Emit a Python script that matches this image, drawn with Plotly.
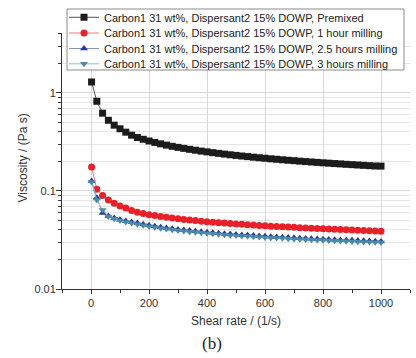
import plotly.graph_objects as go

shear_rate = [2, 20, 40, 60, 80, 100, 120, 140, 160, 180, 200, 220, 240, 260, 280, 300,
              320, 340, 360, 380, 400, 420, 440, 460, 480, 500, 520, 540, 560, 580, 600,
              620, 640, 660, 680, 700, 720, 740, 760, 780, 800, 820, 840, 860, 880, 900,
              920, 940, 960, 980, 1000]

premixed = [1.29, 0.82, 0.62, 0.525, 0.468, 0.43, 0.397, 0.37, 0.350, 0.336, 0.323, 0.312,
            0.302, 0.293, 0.285, 0.278, 0.2716, 0.2655, 0.260, 0.2547, 0.250, 0.2455, 0.2413,
            0.2374, 0.2337, 0.2303, 0.2269, 0.2237, 0.2207, 0.2179, 0.2153, 0.2125, 0.2102,
            0.2077, 0.2054, 0.2034, 0.2011, 0.1991, 0.1972, 0.1954, 0.1935, 0.1918, 0.1900,
            0.1885, 0.1868, 0.1853, 0.1838, 0.1823, 0.1809, 0.1795, 0.179]

milling_1h = [0.175, 0.104, 0.090, 0.081, 0.075, 0.070, 0.0668, 0.0632, 0.0605, 0.0588,
              0.0573, 0.0560, 0.0549, 0.0538, 0.0529, 0.0520, 0.0512, 0.0505, 0.0498, 0.0492,
              0.0486, 0.0480, 0.0475, 0.0470, 0.0465, 0.0460, 0.0456, 0.0452, 0.0448, 0.0444,
              0.0441, 0.0437, 0.0434, 0.0431, 0.0428, 0.0425, 0.0422, 0.0419, 0.0416, 0.0414,
              0.0411, 0.0409, 0.0406, 0.0404, 0.0402, 0.0400, 0.0397, 0.0395, 0.0393, 0.0391,
              0.0389]

milling_2_5h = [0.126, 0.085, 0.0597, 0.0555, 0.0528, 0.0508, 0.0494, 0.0481, 0.0470,
                0.04572, 0.0446, 0.04361, 0.04272, 0.04192, 0.0412, 0.04054, 0.03994,
                0.03937, 0.03885, 0.03835, 0.0379, 0.03746, 0.03705, 0.03667, 0.0363,
                0.03596, 0.03563, 0.03531, 0.03501, 0.03472, 0.03445, 0.03418, 0.03393,
                0.03369, 0.03345, 0.03322, 0.03301, 0.03279, 0.03259, 0.03239, 0.0322,
                0.03201, 0.03183, 0.03165, 0.03149, 0.03132, 0.03116, 0.031, 0.03085,
                0.0307, 0.03055]

milling_3h = [0.123, 0.081, 0.064, 0.055, 0.052, 0.0498, 0.0482, 0.0470, 0.0458, 0.04455,
              0.04346, 0.04249, 0.04163, 0.04085, 0.04015, 0.03951, 0.03892, 0.03836,
              0.03785, 0.03737, 0.03693, 0.0365, 0.03611, 0.03573, 0.03538, 0.03504,
              0.03472, 0.03441, 0.03412, 0.03384, 0.03357, 0.03331, 0.03307, 0.03283,
              0.0326, 0.03238, 0.03217, 0.03195, 0.03176, 0.03157, 0.03137, 0.0312,
              0.03102, 0.03085, 0.03068, 0.03052, 0.03037, 0.03021, 0.03006, 0.02991,
              0.02977]

names = ["Carbon1 31 wt%, Dispersant2 15% DOWP, Premixed",
         "Carbon1 31 wt%, Dispersant2 15% DOWP, 1 hour milling",
         "Carbon1 31 wt%, Dispersant2 15% DOWP, 2.5 hours milling",
         "Carbon1 31 wt%, Dispersant2 15% DOWP, 3 hours milling"]

y_tickvals = [0.01, 0.1, 1]
y_ticktext = ["0.01", "0.1", "1"]
y_minor = [0.02, 0.03, 0.04, 0.05, 0.06, 0.07, 0.08, 0.09,
           0.2, 0.3, 0.4, 0.5, 0.6, 0.7, 0.8, 0.9, 2, 3, 4]
x_tickvals = [0, 200, 400, 600, 800, 1000]

x_title = "Shear rate / (1/s)"
y_title = "Viscosity / (Pa s)"
panel_label = "(b)"

series = [
    (premixed, names[0], "square", "#1c1c1c", "#555555"),
    (milling_1h, names[1], "circle", "#e8202a", "#f07a7f"),
    (milling_2_5h, names[2], "triangle-up", "#28389a", "#8a93c8"),
    (milling_3h, names[3], "triangle-down", "#4a8aa8", "#8fbdd0"),
]

W, H = 416, 358
ML, MR, MT, MB = 62, 6, 33, 69
legend_ids = ["legend", "legend2", "legend3", "legend4"]
row_centers = [17.3, 33.0, 48.5, 63.8]   # px from top

fig = go.Figure()
for (vals, nm, sym, col, lcol), lid in zip(series, legend_ids):
    fig.add_trace(go.Scatter(
        x=shear_rate, y=vals, name=nm, mode="lines+markers",
        line=dict(color=lcol, width=1),
        marker=dict(symbol=sym, size=7, color=col, line=dict(width=0)),
        legend=lid,
    ))

sans = "Liberation Sans, Arial, sans-serif"
legend_font = dict(family=sans, size=11, color="#222222")
axis_font = dict(family=sans, size=11, color="#333333")
title_font = dict(family=sans, size=12, color="#333333")

legends = {}
for lid, yc in zip(legend_ids, row_centers):
    legends[lid] = dict(
        xref="container", yref="container",
        x=64 / W, y=1 - (yc - 14.5) / H, xanchor="left", yanchor="top",
        bgcolor="rgba(0,0,0,0)", borderwidth=0, font=legend_font, itemwidth=30,
    )

pw, ph = W - ML - MR, H - MT - MB
box = dict(type="rect", xref="paper", yref="paper",
           x0=(67 - ML) / pw, x1=(404 - ML) / pw,
           y0=(H - MB - 70) / ph, y1=(H - MB - 9) / ph,
           fillcolor="white", line=dict(color="#8a8a8a", width=1), layer="above")

fig.update_layout(
    width=W, height=H,
    margin=dict(l=ML, r=MR, t=MT, b=MB, autoexpand=False),
    paper_bgcolor="white", plot_bgcolor="white",
    font=dict(family=sans, size=11, color="#222222"),
    showlegend=True,
    hovermode=False,
    shapes=[box],
    xaxis=dict(
        range=[-100, 1100], tickvals=x_tickvals, ticks="outside", ticklen=4,
        tickcolor="#333333", showline=True, linecolor="#333333", linewidth=1,
        showgrid=True, gridcolor="#d8d8d8", zeroline=False, tickfont=axis_font,
        minor=dict(dtick=100, tick0=0, ticks="outside", ticklen=3, tickcolor="#333333", showgrid=False),
        title=dict(text=x_title, standoff=8, font=title_font),
    ),
    yaxis=dict(
        type="log", range=[-2, 0.61], tickvals=y_tickvals, ticktext=y_ticktext,
        ticks="outside", ticklen=5, ticklabelstandoff=-2, tickcolor="#333333", showline=True,
        linecolor="#333333", linewidth=1, showgrid=True, gridcolor="#d8d8d8",
        zeroline=False, tickfont=axis_font,
        minor=dict(tickvals=y_minor, ticks="outside", ticklen=3, tickcolor="#333333",
                   showgrid=True, gridcolor="#e6e6e6"),
    ),
    annotations=[
        dict(text=y_title, xref="paper", yref="paper", x=(23 - ML) / pw, y=0.51,
             xanchor="center", yanchor="middle", textangle=-90, showarrow=False,
             font=title_font),
        dict(text=panel_label, xref="paper", yref="paper", x=(212 - ML) / pw,
             y=-(343 - (H - MB)) / ph, xanchor="center", yanchor="middle", showarrow=False,
             font=dict(family="Liberation Serif, Times New Roman, serif", size=17, color="#222222")),
    ],
    **legends,
)

fig.write_html(
    "out.html",
    config={"displayModeBar": False, "responsive": False},
    post_script="document.body.style.margin='0';document.body.style.padding='0';",
)
